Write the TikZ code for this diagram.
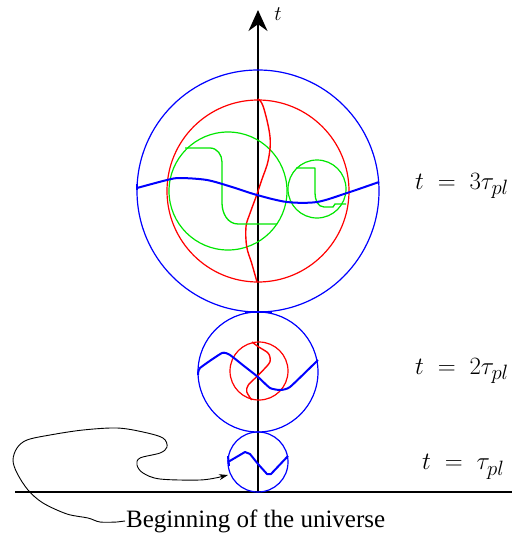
\documentclass[tikz,border=0pt]{standalone}
\usepackage{fontspec}
\newfontfamily\capfont{Liberation Serif}
\usetikzlibrary{arrows.meta}
\definecolor{pblue}{RGB}{0,0,255}
\definecolor{pred}{RGB}{255,0,0}
\definecolor{pgreen}{RGB}{0,230,0}
\tikzset{
  ring/.style={circle,draw,inner sep=0pt,line width=1.2pt},
  bluering/.style={ring,draw=pblue},
  redring/.style={ring,draw=pred},
  greenring/.style={ring,draw=pgreen},
  bwave/.style={draw=pblue,line width=2pt,line join=round},
  rwave/.style={draw=pred,line width=1.4pt,line join=round},
  gwave/.style={draw=pgreen,line width=1.3pt,line join=round},
  tlabel/.style={anchor=west,inner sep=0pt,font=\fontsize{29}{34}\selectfont},
}
\begin{document}
\begin{tikzpicture}[x=1pt,y=-1pt]
\useasboundingbox (0,0) rectangle (526,544);
% axes
\coordinate (base0) at (15,492);
\coordinate (base1) at (512,492);
\coordinate (ax0) at (258,492);
\coordinate (ax1) at (258,10);
\draw[line width=1.1pt] (base0) -- (base1);
\draw[line width=1.6pt,-{Stealth[length=21pt,width=19pt]}] (ax0) -- (ax1);
\node[font=\fontsize{21}{24}\selectfont] (tax) at (278,14) {$t$};

% circles
\node[bluering,minimum size=242pt] (big) at (258,191) {};
\node[redring,minimum size=182pt] (bigred) at (258,191) {};
\node[greenring,minimum size=118pt] (g1) at (228,191) {};
\node[greenring,minimum size=58pt] (g2) at (317,189) {};
\node[bluering,minimum size=120pt] (mid) at (258,372) {};
\node[redring,minimum size=58pt] (midred) at (259,371) {};
\node[bluering,minimum size=60pt] (small) at (258,462) {};

% contact mark
\draw[draw=pblue,line width=2.5pt] (245,312) -- (272,312);

% big circle contents
\draw[rwave] plot[smooth,tension=0.6] coordinates {(258,99) (263.3,106.7) (270,136.7) (268.3,160) (261.7,180) (256.7,195) (250,213.3) (246,226.7) (246.7,246.7) (251.7,263.3) (257,282)};
\draw[gwave] (185,148) -- (210,148) to[out=0,in=90] (222,162) -- (222,203) to[out=-90,in=180] (238,224) -- (277,224);
\draw[gwave] (296,168) -- (315,168) -- (315,193) to[out=-90,in=180] (324,207) -- (333,207) -- (335,204) -- (346,204);
\draw[bwave] (137,184) -- (137,190);
\draw[bwave] plot[smooth,tension=0.5] coordinates {(137,188) (167,180) (180,178) (207,180) (232,187) (257,195) (287,202) (317,202) (347,193) (379,182)};

% middle circle contents
\draw[rwave] plot[smooth,tension=0.5] coordinates {(252,342) (258.3,346.7) (268.3,353.3) (270,361.7) (263.3,370) (256.7,376.7) (248.3,385) (246.7,391.7) (251.7,400)};
\draw[bwave] plot[smooth,tension=0.3] coordinates {(198,375) (200,368) (222,353) (230,355) (244,366) (258,377) (270,388) (280,390) (290,387) (318,360)};

% small circle contents
\draw[bwave] (228,456) -- (229,466);
\draw[bwave] (228,462) -- (245,452) -- (250,454) -- (258,464) -- (267,474) -- (271,474) -- (288,456);

% labels
\node[tlabel] (l3) at (415,186) {$t\;=\;3\tau_{pl}$};
\node[tlabel] (l2) at (415,371) {$t\;=\;2\tau_{pl}$};
\node[tlabel] (l1) at (422,467) {$t\;=\;\tau_{pl}$};

\node[font=\capfont\fontsize{25}{28}\selectfont,inner sep=1pt,anchor=west] (cap) at (125,521) {Beginning of the universe};
\coordinate (tip) at (228,475);
\draw[line width=0.9pt,-{Stealth[length=9pt,width=6pt]}] (cap.west) -- plot[smooth,tension=0.55] coordinates {(117,522) (100,522) (88,518) (67,514) (43,503) (28,490) (17,473) (13,460) (17,448) (27,440) (50,435) (83,430) (117,428) (143,432) (163,438) (167,447) (160,453) (140,458) (137,465) (143,473) (160,479) (200,480) (220,477)} -- (tip);
\end{tikzpicture}
\end{document}
